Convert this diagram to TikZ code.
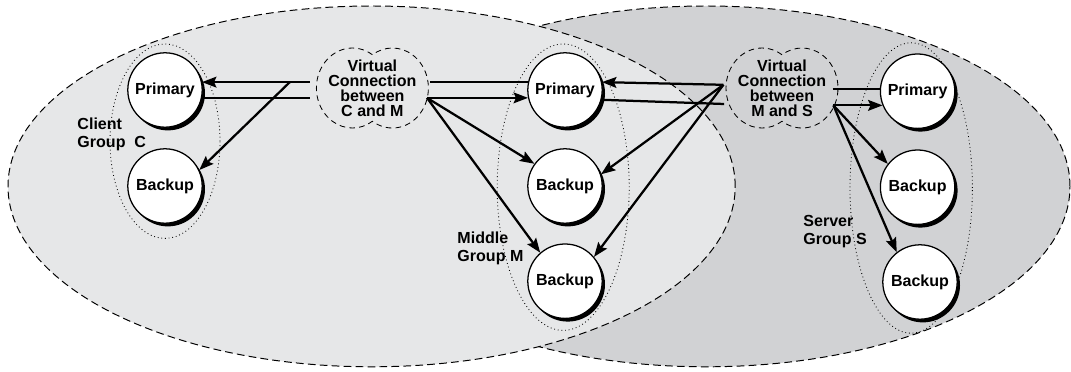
\documentclass[tikz,border=0pt]{standalone}
\usepackage{fontspec}
\setmainfont{Liberation Sans}
\usetikzlibrary{arrows.meta,shapes.geometric,shadows,calc}

\definecolor{zonelight}{HTML}{E6E7E8}
\definecolor{zonedark}{HTML}{D1D2D4}

\tikzset{
  replica/.style={circle, draw, line width=0.9pt, fill=white, minimum size=1.86cm,
    inner sep=0pt, font=\bfseries\fontsize{11.4}{12}\selectfont,
    drop shadow={shadow xshift=0.07cm, shadow yshift=-0.08cm, fill=black, opacity=1}},
  vconn/.style={ellipse, minimum width=2.75cm, minimum height=2cm, inner sep=0pt,
    align=center, font=\bfseries\fontsize{11.4}{10.6}\selectfont},
  grouplabel/.style={anchor=north west, align=left, inner sep=0pt,
    font=\bfseries\fontsize{11.4}{12.8}\selectfont},
  zone/.style={draw=black, line width=0.7pt, dash pattern=on 5.5pt off 3pt},
  ring/.style={draw, line width=0.6pt, dotted},
  cloudline/.style={draw, line width=0.6pt, dash pattern=on 4pt off 3pt},
  conn/.style={line width=1.6pt},
  arr/.style={conn, -{Stealth[length=3.6mm, width=2.7mm, inset=0.6mm]}},
}

% dashed two-lobe outline round a connection node
\newcommand\cloudoutline[1]{%
  \draw[cloudline] ($(#1)+(0,0.831)$)
    arc[start angle=56.25, end angle=303.75, x radius=0.9, y radius=1.0]
    arc[start angle=236.25, end angle=483.75, x radius=0.9, y radius=1.0] -- cycle;}

\begin{document}
\begin{tikzpicture}
  \useasboundingbox (0,0) rectangle (26.775,-9.3);

  % the two domains
  \path[fill=zonedark, zone] (17.65,-4.66) ellipse [x radius=9.1, y radius=4.51];
  \path[fill=zonelight, zone] (9.29,-4.66) ellipse [x radius=9.09, y radius=4.51];

  % groups
  \draw[ring] (4.125,-3.53) ellipse [x radius=1.375, y radius=2.43];
  \draw[ring] (14.08,-4.68) ellipse [x radius=1.65, y radius=3.58];
  \draw[ring] (22.78,-4.7) ellipse [x radius=1.53, y radius=3.63];

  % replicas
  \node[replica] (cP)  at (4.125,-2.25) {Primary};
  \node[replica] (cB)  at (4.125,-4.65) {Backup};
  \node[replica] (mP)  at (14.125,-2.25) {Primary};
  \node[replica] (mB1) at (14.125,-4.65) {Backup};
  \node[replica] (mB2) at (14.125,-7.03) {Backup};
  \node[replica] (sP)  at (22.94,-2.28) {Primary};
  \node[replica] (sB1) at (22.94,-4.68) {Backup};
  \node[replica] (sB2) at (23.0,-7.05) {Backup};

  \node[grouplabel] (cL) at (1.93,-2.93) {Client\\Group\ \ C};
  \node[grouplabel] (mL) at (11.43,-5.8) {Middle\\Group M};
  \node[grouplabel] (sL) at (20.08,-5.38) {Server\\Group S};

  % virtual connections
  \node[vconn] (cm) at (9.31,-2.2) {Virtual\\Connection\\between\\C and M};
  \node[vconn] (ms) at (19.55,-2.2) {Virtual\\Connection\\between\\M and S};
  \cloudoutline{cm}
  \cloudoutline{ms}

  % client side
  \draw[arr] (cm.west |- cP.12) -- (cP.12);
  \draw[conn] (cP.348) -- (cP.348 -| cm.west);
  \coordinate (cmA) at ($(cm.west |- cP.12)+(-0.5,0)$);
  \draw[arr] (cmA) -- (cB.25);

  % middle group, from C and M
  \coordinate (cmB) at ($(cm.east |- mP.168)+(-0.12,0)$);
  \coordinate (cmC) at ($(cm.east |- mP.192)+(-0.2,0)$);
  \draw[conn] (cmB) -- (mP.168);
  \draw[arr] (cmC) -- (mP.192);
  \draw[arr] (cmC) -- (mB1.144);
  \draw[arr] (cmC) -- (mB2.131);

  % middle group, from M and S
  \coordinate (msA) at ($(ms.west)+(0.1,0.08)$);
  \coordinate (msB) at ($(ms.west)+(0.12,-0.4)$);
  \draw[arr] (msA) -- (mP.12);
  \draw[arr] (msA) -- (mB1.18);
  \draw[arr] (msA) -- (mB2.40);
  \draw[conn] (mP.345) -- (msB);

  % server side
  \coordinate (msC) at ($(ms.east |- sP.177)+(-0.3,0)$);
  \coordinate (msD) at ($(ms.east |- sP.202)+(-0.28,0)$);
  \draw[conn] (msC) -- (sP.177);
  \draw[arr] (msD) -- (sP.202);
  \draw[arr] (msD) -- (sB1.142);
  \draw[arr] (msD) -- (sB2.128);
\end{tikzpicture}
\end{document}
